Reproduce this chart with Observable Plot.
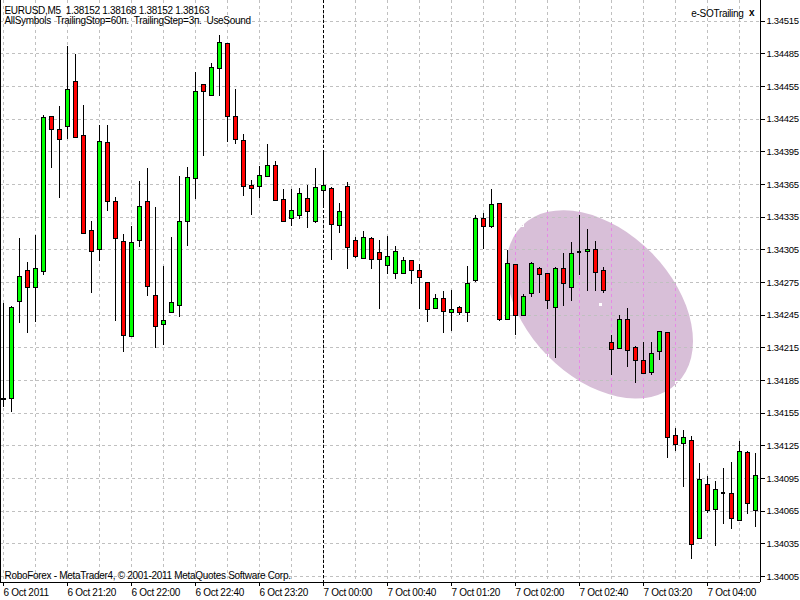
<!DOCTYPE html>
<html>
<head>
<meta charset="utf-8">
<script src="https://cdn.jsdelivr.net/npm/d3@7"></script>
<script src="https://cdn.jsdelivr.net/npm/@observablehq/plot@0.6"></script>
<style>
  html, body { margin: 0; padding: 0; background: #fff; }
  #chart svg line, #chart svg rect, #chart svg path { shape-rendering: crispEdges; }
  #chart svg text { letter-spacing: -0.3px; }
</style>
</head>
<body>
<div id="chart"></div>
<script>
// EURUSD M5 bars, 6 Oct 20:40 .. 7 Oct 04:30 (one entry per bar)
const barOpen = [
  1.34167, 1.34168, 1.34257, 1.34286, 1.34270, 1.34285, 1.34427, 1.34415, 1.34418, 1.34459,
  1.34410, 1.34322, 1.34305, 1.34403, 1.34349, 1.34312, 1.34225, 1.34313, 1.34349, 1.34263,
  1.34236, 1.34247, 1.34253, 1.34331, 1.34370, 1.34456, 1.34446, 1.34471, 1.34494, 1.34427,
  1.34405, 1.34364, 1.34363, 1.34372, 1.34382, 1.34351, 1.34333, 1.34336, 1.34352, 1.34331,
  1.34359, 1.34361, 1.34327, 1.34363, 1.34313, 1.34297, 1.34315, 1.34302, 1.34290, 1.34283,
  1.34283, 1.34295, 1.34286, 1.34275, 1.34251, 1.34260, 1.34247, 1.34252, 1.34247, 1.34276,
  1.34333, 1.34326, 1.34347, 1.34241, 1.34291, 1.34244, 1.34264, 1.34287, 1.34283, 1.34252,
  1.34287, 1.34270, 1.34303, 1.34303, 1.34305, 1.34286, 1.34219, 1.34214, 1.34241, 1.34215,
  1.34203, 1.34192, 1.34211, 1.34229, 1.34134, 1.34127, 1.34129, 1.34039, 1.34089, 1.34066,
  1.34082, 1.34081, 1.34056, 1.34118, 1.34065
];
const barHigh = [
  1.34256, 1.34253, 1.34315, 1.34293, 1.34318, 1.34428, 1.34427, 1.34437, 1.34492, 1.34484,
  1.34438, 1.34331, 1.34419, 1.34419, 1.34353, 1.34319, 1.34326, 1.34368, 1.34380, 1.34344,
  1.34290, 1.34316, 1.34372, 1.34381, 1.34468, 1.34456, 1.34476, 1.34502, 1.34494, 1.34452,
  1.34411, 1.34369, 1.34382, 1.34402, 1.34386, 1.34360, 1.34360, 1.34361, 1.34364, 1.34380,
  1.34396, 1.34362, 1.34348, 1.34367, 1.34316, 1.34322, 1.34316, 1.34314, 1.34317, 1.34308,
  1.34298, 1.34295, 1.34292, 1.34275, 1.34264, 1.34267, 1.34268, 1.34253, 1.34290, 1.34337,
  1.34338, 1.34360, 1.34347, 1.34304, 1.34291, 1.34264, 1.34293, 1.34289, 1.34283, 1.34289,
  1.34302, 1.34312, 1.34337, 1.34324, 1.34313, 1.34289, 1.34226, 1.34245, 1.34251, 1.34216,
  1.34220, 1.34220, 1.34230, 1.34229, 1.34141, 1.34139, 1.34134, 1.34109, 1.34097, 1.34092,
  1.34104, 1.34110, 1.34129, 1.34120, 1.34118
];
const barLow = [
  1.34160, 1.34156, 1.34237, 1.34228, 1.34238, 1.34281, 1.34380, 1.34352, 1.34406, 1.34408,
  1.34320, 1.34265, 1.34294, 1.34340, 1.34239, 1.34211, 1.34225, 1.34307, 1.34262, 1.34214,
  1.34217, 1.34247, 1.34243, 1.34308, 1.34351, 1.34391, 1.34446, 1.34446, 1.34404, 1.34402,
  1.34354, 1.34337, 1.34352, 1.34372, 1.34350, 1.34331, 1.34326, 1.34333, 1.34325, 1.34329,
  1.34343, 1.34295, 1.34320, 1.34287, 1.34297, 1.34297, 1.34287, 1.34250, 1.34282, 1.34278,
  1.34283, 1.34273, 1.34250, 1.34238, 1.34251, 1.34228, 1.34230, 1.34245, 1.34238, 1.34275,
  1.34305, 1.34325, 1.34239, 1.34241, 1.34226, 1.34244, 1.34261, 1.34265, 1.34250, 1.34205,
  1.34253, 1.34258, 1.34281, 1.34267, 1.34267, 1.34265, 1.34190, 1.34214, 1.34197, 1.34182,
  1.34191, 1.34190, 1.34203, 1.34113, 1.34120, 1.34087, 1.34021, 1.34039, 1.34063, 1.34033,
  1.34053, 1.34048, 1.34056, 1.34062, 1.34050
];
const barClose = [
  1.34168, 1.34252, 1.34280, 1.34270, 1.34287, 1.34426, 1.34415, 1.34406, 1.34452, 1.34408,
  1.34320, 1.34303, 1.34404, 1.34349, 1.34315, 1.34226, 1.34311, 1.34344, 1.34271, 1.34234,
  1.34240, 1.34256, 1.34331, 1.34371, 1.34450, 1.34450, 1.34472, 1.34495, 1.34427, 1.34406,
  1.34363, 1.34361, 1.34373, 1.34382, 1.34350, 1.34331, 1.34341, 1.34356, 1.34340, 1.34362,
  1.34364, 1.34328, 1.34340, 1.34307, 1.34298, 1.34316, 1.34296, 1.34296, 1.34298, 1.34303,
  1.34295, 1.34286, 1.34279, 1.34250, 1.34260, 1.34248, 1.34250, 1.34247, 1.34274, 1.34333,
  1.34326, 1.34346, 1.34241, 1.34292, 1.34244, 1.34262, 1.34292, 1.34282, 1.34258, 1.34287,
  1.34274, 1.34301, 1.34303, 1.34305, 1.34284, 1.34267, 1.34213, 1.34241, 1.34212, 1.34203,
  1.34191, 1.34209, 1.34230, 1.34132, 1.34126, 1.34132, 1.34034, 1.34094, 1.34065, 1.34084,
  1.34082, 1.34058, 1.34119, 1.34072, 1.34097
];

const xTickBars = [0, 8, 16, 24, 32, 40, 48, 56, 64, 72, 80, 88];
const xTickLabels = [
  "6 Oct 2011", "6 Oct 21:20", "6 Oct 22:00", "6 Oct 22:40", "6 Oct 23:20", "7 Oct 00:00",
  "7 Oct 00:40", "7 Oct 01:20", "7 Oct 02:00", "7 Oct 02:40", "7 Oct 03:20", "7 Oct 04:00"
];
const priceTicks = [
  1.34005, 1.34035, 1.34065, 1.34095, 1.34125, 1.34155, 1.34185, 1.34215, 1.34245,
  1.34275, 1.34305, 1.34335, 1.34365, 1.34395, 1.34425, 1.34455, 1.34485, 1.34515
];
const daySeparatorBar = 40;

const headerLines = [
  "EURUSD,M5  1.38152 1.38168 1.38152 1.38163",
  "AllSymbols  TrailingStop=60п.  TrailingStep=3п.  UseSound"
];
const indicatorName = "e-SOTrailing";
const footerText = "RoboForex - MetaTrader4, © 2001-2011 MetaQuotes Software Corp.";

// ellipse object: the two ends of its long axis (bar, price) and short/long ratio
const ellipseA = {bar: 64.9, price: 1.34327};
const ellipseB = {bar: 84.25, price: 1.34182};
const ellipseRatio = 0.662;

const bars = barOpen.map((o, i) => ({i, o, h: barHigh[i], l: barLow[i], c: barClose[i]}));
const dojis = bars.filter(d => d.o === d.c);
const gridBars = d3.range(0, bars.length, 4);
const xDomain = [-0.375, bars.length - 0.375];
const yDomain = [1.339995, 1.34534];

function ellipseGeom(x, y) {
  const ax = x(ellipseA.bar), ay = y(ellipseA.price);
  const bx = x(ellipseB.bar), by = y(ellipseB.price);
  const rx = Math.hypot(bx - ax, by - ay) / 2;
  return {
    ax, ay, bx, by,
    cx: (ax + bx) / 2, cy: (ay + by) / 2,
    rx, ry: rx * ellipseRatio,
    angle: Math.atan2(by - ay, bx - ax)
  };
}

function ellipseMark(index, {x, y}) {
  const e = ellipseGeom(x, y);
  const g = d3.create("svg:g");
  g.append("ellipse")
    .attr("transform", `translate(${e.cx},${e.cy}) rotate(${e.angle * 180 / Math.PI})`)
    .attr("rx", e.rx).attr("ry", e.ry)
    .attr("fill", "#d8bfd8");
  // selection handles
  const mx = e.cx - Math.sin(e.angle) * e.ry, my = e.cy + Math.cos(e.angle) * e.ry;
  for (const [hx, hy] of [[e.ax, e.ay], [e.bx, e.by], [mx, my]]) {
    g.append("rect").attr("x", Math.round(hx) - 2).attr("y", Math.round(hy) - 2)
      .attr("width", 3).attr("height", 3).attr("fill", "none").attr("stroke", "#fff");
  }
  g.append("rect").attr("x", Math.round(e.cx) - 1).attr("y", Math.round(e.cy) - 1)
    .attr("width", 3).attr("height", 3).attr("fill", "#fff");
  return g.node();
}

// vertical grid shows pink where it crosses the ellipse
function ellipseGridMark(index, {x, y}, values, dims) {
  const e = ellipseGeom(x, y);
  const g = d3.create("svg:g");
  g.append("clipPath").attr("id", "ell-clip")
    .append("ellipse")
    .attr("transform", `translate(${e.cx},${e.cy}) rotate(${e.angle * 180 / Math.PI})`)
    .attr("rx", e.rx).attr("ry", e.ry);
  const inner = g.append("g").attr("clip-path", "url(#ell-clip)");
  for (const b of gridBars) {
    inner.append("line")
      .attr("x1", x(b)).attr("x2", x(b))
      .attr("y1", dims.marginTop).attr("y2", dims.height - dims.marginBottom)
      .attr("stroke", "#e689e6").attr("stroke-dasharray", "3,3");
  }
  return g.node();
}

const chart = Plot.plot({
  width: 800,
  height: 600,
  marginLeft: 0,
  marginRight: 40,
  marginTop: 0,
  marginBottom: 18,
  style: {background: "#fff", color: "#000", fontFamily: "'Liberation Sans', Arial, sans-serif", fontSize: "10px"},
  x: {type: "linear", domain: xDomain},
  y: {type: "linear", domain: yDomain},
  color: {type: "identity"},
  marks: [
    ellipseMark,
    Plot.ruleY(priceTicks, {stroke: "#c0c0c0", strokeDasharray: "3,3"}),
    Plot.ruleX(gridBars, {stroke: "#c0c0c0", strokeDasharray: "3,3"}),
    ellipseGridMark,
    Plot.ruleX([daySeparatorBar], {stroke: "#000", strokeDasharray: "3,2"}),
    // wicks
    Plot.ruleX(bars, {x: "i", y1: "l", y2: "h", stroke: "#000"}),
    // bodies
    Plot.rect(bars, {
      x1: d => d.i - 0.25,
      x2: d => d.i + 0.25,
      y1: "o",
      y2: "c",
      fill: d => d.c > d.o ? "#00ff00" : "#ff0000",
      stroke: "#000",
      inset: 0
    }),
    Plot.ruleY(dojis, {y: "o", x1: d => d.i - 0.3, x2: d => d.i + 0.3, stroke: "#000", strokeWidth: 2}),
    // chart border
    Plot.ruleX([xDomain[0], xDomain[1]], {stroke: "#000"}),
    Plot.ruleY([yDomain[0]], {stroke: "#000"}),
    Plot.axisY({
      anchor: "right",
      ticks: priceTicks,
      tickFormat: d => d.toFixed(5),
      tickSize: 4,
      tickPadding: 2,
      fontSize: 9.5,
      label: null
    }),
    Plot.axisX({
      ticks: xTickBars,
      tickFormat: d => xTickLabels[xTickBars.indexOf(d)],
      tickSize: 4,
      tickPadding: 2,
      textAnchor: "start",
      label: null
    }),
    Plot.text([headerLines[0]], {text: d => d, frameAnchor: "top-left", textAnchor: "start", lineAnchor: "middle", dx: 4, dy: 10}),
    Plot.text([headerLines[1]], {text: d => d, frameAnchor: "top-left", textAnchor: "start", lineAnchor: "middle", dx: 4, dy: 20.5}),
    Plot.text([indicatorName], {text: d => d, frameAnchor: "top-right", textAnchor: "end", lineAnchor: "middle", dx: -17, dy: 13}),
    Plot.text(["x"], {text: d => d, frameAnchor: "top-right", textAnchor: "middle", lineAnchor: "middle", dx: -9, dy: 12, fontWeight: "bold"}),
    Plot.text([footerText], {text: d => d, frameAnchor: "bottom-left", textAnchor: "start", lineAnchor: "middle", dx: 4, dy: -7})
  ]
});

d3.select('#chart').append(() => chart);
</script>
</body>
</html>
